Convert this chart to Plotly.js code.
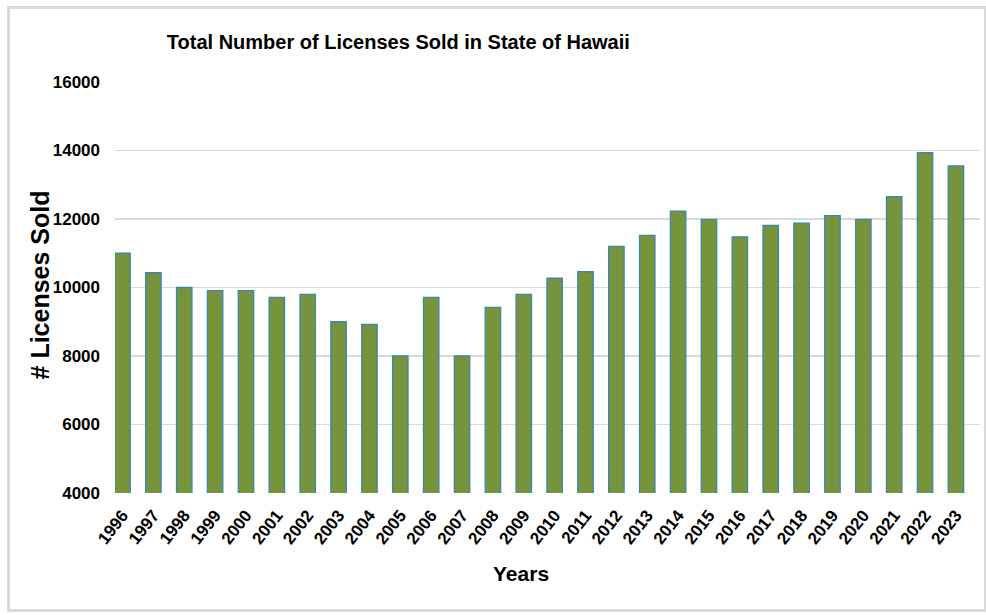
<!DOCTYPE html>
<html>
<head>
<meta charset="utf-8">
<script src="https://cdn.plot.ly/plotly-3.0.1.min.js"></script>
<style>
  html, body { margin: 0; padding: 0; background: #ffffff; }
  #frame { position: absolute; left: 7px; top: 6px; width: 980px; height: 606px; box-sizing: border-box; border: 3px solid #d9d9d9; }
  #chart { position: absolute; left: 0; top: 0; width: 986px; height: 615px; }
</style>
</head>
<body>
<div id="frame"></div>
<div id="chart"></div>
<script>
const years = ["1996","1997","1998","1999","2000","2001","2002","2003","2004","2005",
               "2006","2007","2008","2009","2010","2011","2012","2013","2014","2015",
               "2016","2017","2018","2019","2020","2021","2022","2023"];
const licensesSold = [11000, 10430, 10000, 9910, 9910, 9710, 9800, 9000, 8920, 8000,
                      9710, 8000, 9420, 9800, 10270, 10460, 11200, 11520, 12230, 11990,
                      11480, 11810, 11880, 12100, 11990, 12650, 13940, 13550];
const yTicks = [4000, 6000, 8000, 10000, 12000, 14000, 16000];

const fontFamily = "'Liberation Sans', Arial, sans-serif";

const trace = {
  type: 'bar',
  x: years,
  y: licensesSold,
  width: 0.5,
  marker: { color: '#77933c', line: { color: '#3a88ac', width: 1.3 } },
  hoverinfo: 'x+y'
};

const layout = {
  width: 986,
  height: 615,
  margin: { l: 115, r: 6, t: 82, b: 122 },
  paper_bgcolor: 'rgba(0,0,0,0)',
  plot_bgcolor: 'rgba(0,0,0,0)',
  showlegend: false,
  title: {
    text: 'Total Number of Licenses Sold in State of Hawaii',
    font: { family: fontFamily, size: 20, color: '#000000', weight: 'bold' },
    x: 0.404, xanchor: 'center', xref: 'container',
    y: 0.932, yanchor: 'middle'
  },
  xaxis: {
    type: 'category',
    range: [-0.243, 27.78],
    tickangle: -52,
    tickfont: { family: fontFamily, size: 17, color: '#000000', weight: 'bold' },
    ticklabelstandoff: 8,
    showgrid: false,
    showline: false,
    ticks: ''
  },
  yaxis: {
    range: [4000, 16000],
    tickvals: yTicks,
    ticktext: yTicks.map(String),
    tickfont: { family: fontFamily, size: 17, color: '#000000', weight: 'bold' },
    ticklabelstandoff: 14,
    showgrid: true,
    gridcolor: '#d9d9d9',
    gridwidth: 1.5,
    zeroline: false,
    showline: false,
    ticks: ''
  },
  annotations: [{
    text: 'Years',
    xref: 'paper', yref: 'paper',
    x: 0.469, y: -0.195,
    xanchor: 'center', yanchor: 'middle',
    showarrow: false,
    font: { family: fontFamily, size: 21, color: '#000000', weight: 'bold' }
  }, {
    text: '# Licenses Sold',
    xref: 'paper', yref: 'paper',
    x: -0.0867, y: 0.505,
    xanchor: 'center', yanchor: 'middle',
    textangle: -90,
    showarrow: false,
    font: { family: fontFamily, size: 25, color: '#000000', weight: 'bold' }
  }]
};

Plotly.newPlot('chart', [trace], layout, { displayModeBar: false, staticPlot: true });
</script>
</body>
</html>
